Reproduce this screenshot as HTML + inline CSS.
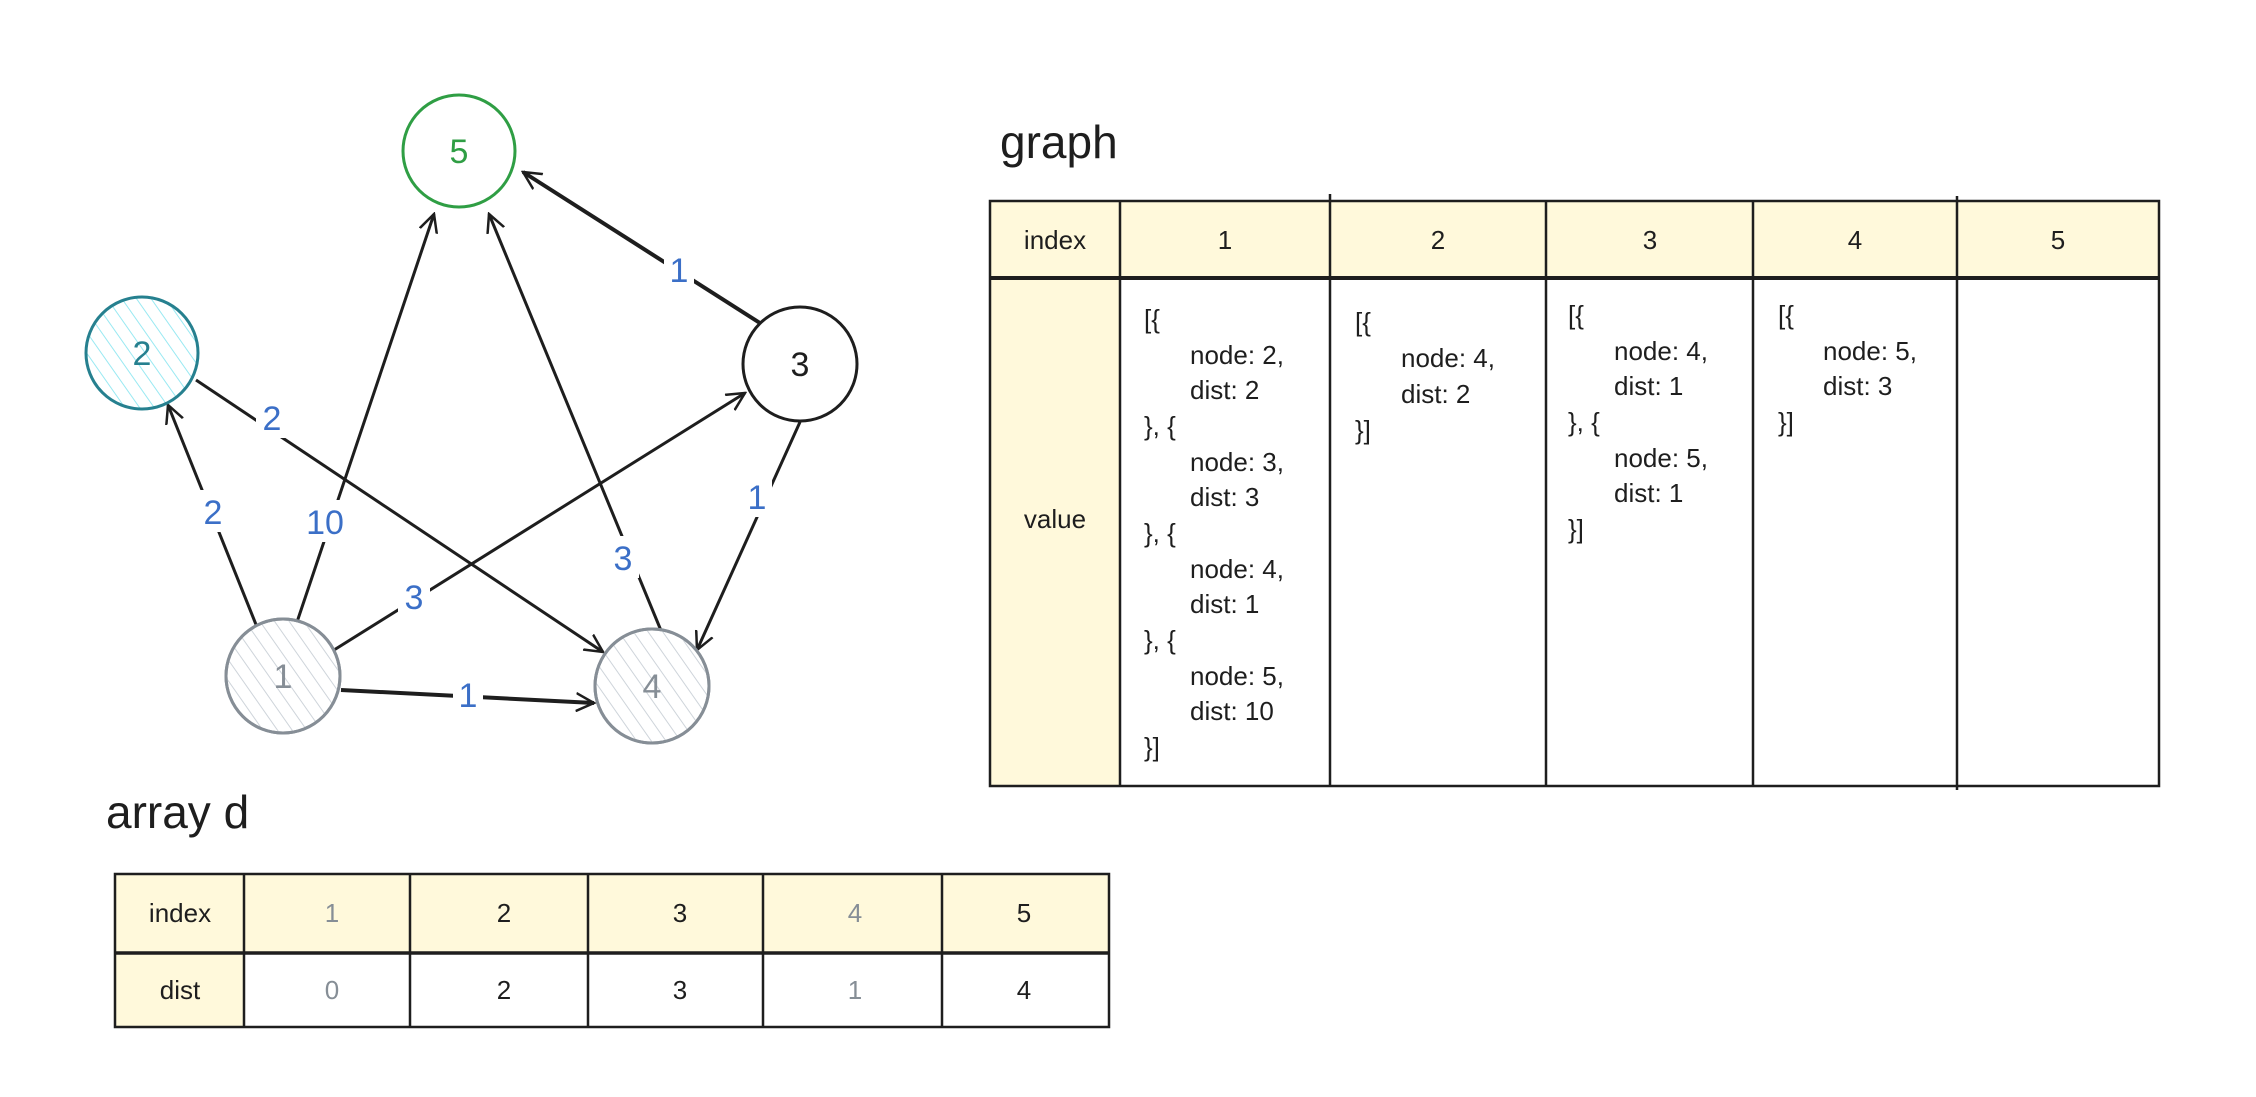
<!DOCTYPE html>
<html><head><meta charset="utf-8"><style>
html,body{margin:0;padding:0;background:#fff;}
svg text{font-family:"Liberation Sans",sans-serif;}
</style></head><body>
<svg width="2256" height="1092" viewBox="0 0 2256 1092" xmlns="http://www.w3.org/2000/svg">
<defs>
<marker id="a" viewBox="0 0 20 20" refX="18" refY="10" markerWidth="20" markerHeight="20" markerUnits="userSpaceOnUse" orient="auto">
<path d="M0,1 L18,10 L0,19" fill="none" stroke="#1e1e1e" stroke-width="2.5"/>
</marker>
<pattern id="hg" width="12" height="12" patternUnits="userSpaceOnUse" patternTransform="rotate(-35)">
<line x1="0" y1="0" x2="0" y2="12" stroke="#ced4da" stroke-width="2"/></pattern>
<pattern id="hc" width="12" height="12" patternUnits="userSpaceOnUse" patternTransform="rotate(-35)">
<line x1="0" y1="0" x2="0" y2="12" stroke="#99e9f2" stroke-width="2"/></pattern>
</defs>
<rect width="2256" height="1092" fill="#fff"/>

<g stroke="#1e1e1e" stroke-width="3" fill="none" marker-end="url(#a)">
<line x1="261" y1="637" x2="168" y2="405"/>
<line x1="296" y1="625" x2="434" y2="214"/>
<line x1="196" y1="380" x2="603" y2="652"/>
<line x1="334" y1="650" x2="745" y2="393"/>
<line x1="662" y1="633" x2="489" y2="214"/>
<line x1="763" y1="325" x2="523" y2="172" stroke-width="4"/>
<line x1="800" y1="422" x2="697" y2="650"/>
<line x1="341" y1="690" x2="594" y2="703" stroke-width="4"/>
</g>

<g font-size="34" fill="#3b6fc7" text-anchor="middle">
<rect x="664" y="248" width="30" height="42" fill="#fff"/><text x="679" y="282">1</text>
<rect x="256" y="396" width="32" height="42" fill="#fff"/><text x="272" y="430">2</text>
<rect x="197" y="490" width="32" height="42" fill="#fff"/><text x="213" y="524">2</text>
<rect x="303" y="500" width="44" height="42" fill="#fff"/><text x="325" y="534">10</text>
<rect x="398" y="575" width="32" height="42" fill="#fff"/><text x="414" y="609">3</text>
<rect x="607" y="536" width="32" height="42" fill="#fff"/><text x="623" y="570">3</text>
<rect x="742" y="475" width="30" height="42" fill="#fff"/><text x="757" y="509">1</text>
<rect x="453" y="673" width="30" height="42" fill="#fff"/><text x="468" y="707">1</text>
</g>

<circle cx="459" cy="151" r="56" fill="#fff" stroke="#2f9e44" stroke-width="3"/>
<text x="459" y="163" font-size="34" fill="#2f9e44" text-anchor="middle">5</text>
<circle cx="142" cy="353" r="56" fill="url(#hc)" stroke="#26808f" stroke-width="3"/>
<text x="142" y="365" font-size="34" fill="#26808f" text-anchor="middle">2</text>
<circle cx="800" cy="364" r="57" fill="#fff" stroke="#1e1e1e" stroke-width="3"/>
<text x="800" y="376" font-size="34" fill="#1e1e1e" text-anchor="middle">3</text>
<circle cx="283" cy="676" r="57" fill="#fff" stroke="#868e96" stroke-width="3"/>
<circle cx="283" cy="676" r="57" fill="url(#hg)" stroke="#868e96" stroke-width="3"/>
<text x="283" y="688" font-size="34" fill="#868e96" text-anchor="middle">1</text>
<circle cx="652" cy="686" r="57" fill="#fff" stroke="#868e96" stroke-width="3"/>
<circle cx="652" cy="686" r="57" fill="url(#hg)" stroke="#868e96" stroke-width="3"/>
<text x="652" y="698" font-size="34" fill="#868e96" text-anchor="middle">4</text>

<text x="1000" y="158" font-size="46" fill="#1e1e1e">graph</text>
<rect x="990" y="201" width="1169" height="77" fill="#fff9db"/>
<rect x="990" y="278" width="130" height="508" fill="#fff9db"/>
<g stroke="#1e1e1e" stroke-width="2.5" fill="none">
<rect x="990" y="201" width="1169" height="585"/>
<line x1="990" y1="278" x2="2159" y2="278" stroke-width="4"/>
<line x1="1120" y1="201" x2="1120" y2="786"/>
<line x1="1330" y1="194" x2="1330" y2="786"/>
<line x1="1546" y1="201" x2="1546" y2="786"/>
<line x1="1753" y1="201" x2="1753" y2="786"/>
<line x1="1957" y1="196" x2="1957" y2="790"/>
</g>
<g font-size="26" fill="#1e1e1e" text-anchor="middle">
<text x="1055" y="249">index</text>
<text x="1225" y="249">1</text><text x="1438" y="249">2</text><text x="1650" y="249">3</text><text x="1855" y="249">4</text><text x="2058" y="249">5</text>
<text x="1055" y="528">value</text>
</g>
<g font-size="26" fill="#1e1e1e">
<text x="1144" y="328">[{</text>
<text x="1190" y="364">node: 2,</text><text x="1190" y="399">dist: 2</text>
<text x="1144" y="435">}, {</text>
<text x="1190" y="471">node: 3,</text><text x="1190" y="506">dist: 3</text>
<text x="1144" y="542">}, {</text>
<text x="1190" y="578">node: 4,</text><text x="1190" y="613">dist: 1</text>
<text x="1144" y="649">}, {</text>
<text x="1190" y="685">node: 5,</text><text x="1190" y="720">dist: 10</text>
<text x="1144" y="756">}]</text>

<text x="1355" y="331">[{</text>
<text x="1401" y="367">node: 4,</text><text x="1401" y="403">dist: 2</text>
<text x="1355" y="439">}]</text>

<text x="1568" y="324">[{</text>
<text x="1614" y="360">node: 4,</text><text x="1614" y="395">dist: 1</text>
<text x="1568" y="431">}, {</text>
<text x="1614" y="467">node: 5,</text><text x="1614" y="502">dist: 1</text>
<text x="1568" y="538">}]</text>

<text x="1778" y="324">[{</text>
<text x="1823" y="360">node: 5,</text><text x="1823" y="395">dist: 3</text>
<text x="1778" y="431">}]</text>
</g>

<text x="106" y="828" font-size="46" fill="#1e1e1e">array d</text>
<rect x="115" y="874" width="994" height="79" fill="#fff9db"/>
<rect x="115" y="953" width="129" height="74" fill="#fff9db"/>
<g stroke="#1e1e1e" stroke-width="2.5" fill="none">
<rect x="115" y="874" width="994" height="153"/>
<line x1="115" y1="953" x2="1109" y2="953" stroke-width="3.5"/>
<line x1="244" y1="874" x2="244" y2="1027"/>
<line x1="410" y1="874" x2="410" y2="1027"/>
<line x1="588" y1="874" x2="588" y2="1027"/>
<line x1="763" y1="874" x2="763" y2="1027"/>
<line x1="942" y1="874" x2="942" y2="1027"/>
</g>
<g font-size="26" text-anchor="middle">
<text x="180" y="922" fill="#1e1e1e">index</text>
<text x="332" y="922" fill="#868e96">1</text>
<text x="504" y="922" fill="#1e1e1e">2</text>
<text x="680" y="922" fill="#1e1e1e">3</text>
<text x="855" y="922" fill="#868e96">4</text>
<text x="1024" y="922" fill="#1e1e1e">5</text>
<text x="180" y="999" fill="#1e1e1e">dist</text>
<text x="332" y="999" fill="#868e96">0</text>
<text x="504" y="999" fill="#1e1e1e">2</text>
<text x="680" y="999" fill="#1e1e1e">3</text>
<text x="855" y="999" fill="#868e96">1</text>
<text x="1024" y="999" fill="#1e1e1e">4</text>
</g>
</svg>
</body></html>
